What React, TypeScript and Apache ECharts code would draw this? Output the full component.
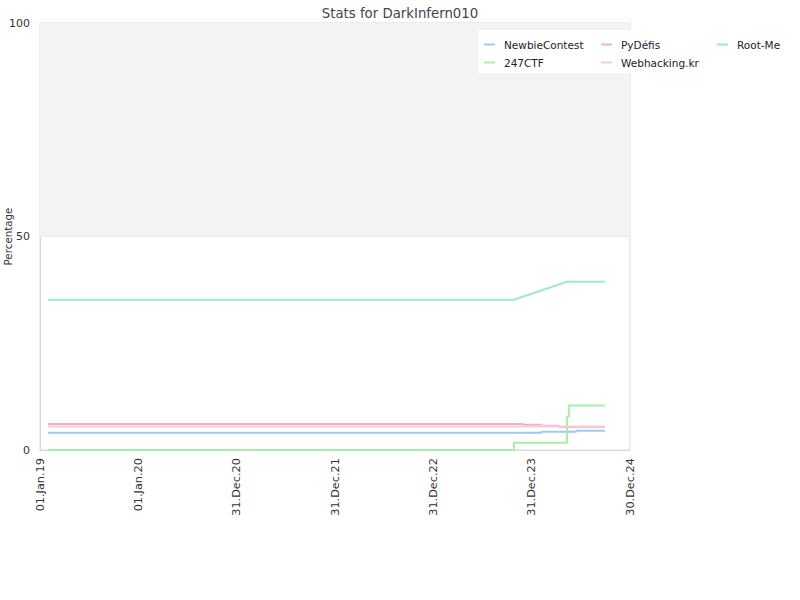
import React, { useEffect, useRef } from "react";
import * as echarts from "echarts";

const seriesNames = ["NewbieContest", "247CTF", "PyDéfis", "Webhacking.kr", "Root-Me"];
const seriesColors = ["#9ec9f5", "#a9eea6", "#f5abcb", "#f9cdd0", "#9de9c9"];

const newbieDates = ["2019-01-31", "2024-02-04", "2024-06-13", "2024-09-28"];
const newbieValues = [4.05, 4.3, 4.5, 4.5];

const ctfDates = ["2019-01-31", "2023-10-26", "2024-05-10", "2024-05-17", "2024-09-28"];
const ctfValues = [0, 1.7, 7.8, 10.4, 10.4];

const pyDates = ["2019-01-31", "2023-11-29", "2024-02-04", "2024-04-10", "2024-09-28"];
const pyValues = [6.1, 5.9, 5.7, 5.4, 5.4];

const webDates = ["2019-01-31", "2024-09-28"];
const webValues = [5.5, 5.5];

const rootDates = ["2019-01-31", "2023-10-26", "2024-05-10", "2024-09-28"];
const rootValues = [35.2, 35.2, 39.4, 39.4];

const yTicks = [0, 50, 100];

const DAY = 86400000;
const X_MIN = Date.UTC(2019, 0, 1);
const X_INTERVAL = 365 * DAY;
const X_MAX = X_MIN + 6 * X_INTERVAL;

const MONTHS = ["Jan", "Feb", "Mar", "Apr", "May", "Jun", "Jul", "Aug", "Sep", "Oct", "Nov", "Dec"];
function fmtDate(v: number) {
  const d = new Date(v);
  const dd = String(d.getUTCDate()).padStart(2, "0");
  const yy = String(d.getUTCFullYear() % 100).padStart(2, "0");
  return `${dd}.${MONTHS[d.getUTCMonth()]}.${yy}`;
}

function pairs(dates: string[], values: number[]) {
  return dates.map((d, i) => [new Date(d).getTime(), values[i]]);
}

export default function App() {
  const ref = useRef<HTMLDivElement>(null);
  useEffect(() => {
    if (!ref.current) return;
    const chart = echarts.init(ref.current, null, { renderer: "svg" });
    const font = "DejaVu Sans";
    const dataSets = [
      pairs(newbieDates, newbieValues),
      pairs(ctfDates, ctfValues),
      pairs(pyDates, pyValues),
      pairs(webDates, webValues),
      pairs(rootDates, rootValues),
    ];
    const steps: any[] = ["end", "end", "end", "end", false];
    const legendStyle = {
      orient: "vertical" as const,
      top: 34,
      icon: "rect",
      itemWidth: 11,
      itemHeight: 2,
      itemGap: 7,
      textStyle: { color: "#222", fontSize: 10.5, fontFamily: font, padding: [0, 0, 0, 4] },
    };
    chart.setOption({
      animation: false,
      textStyle: { fontFamily: font },
      title: {
        text: "Stats for DarkInfern010",
        left: "center",
        top: 2,
        textStyle: { fontSize: 13.3, fontWeight: "normal", color: "#444", fontFamily: font },
      },
      graphic: [
        {
          type: "rect",
          z: 3,
          shape: { x: 478, y: 30, width: 322, height: 43 },
          style: { fill: "#ffffff" },
        },
      ],
      legend: [
        { ...legendStyle, left: 479, data: [seriesNames[0], seriesNames[1]] },
        { ...legendStyle, left: 596, data: [seriesNames[2], seriesNames[3]] },
        { ...legendStyle, left: 712, data: [seriesNames[4]] },
      ],
      grid: {
        left: 40,
        right: 170,
        top: 23,
        bottom: 150,
        containLabel: false,
        outerBoundsMode: "none",
        show: true,
        borderColor: "#d9d9d9",
        borderWidth: 1,
        backgroundColor: "#ffffff",
      },
      xAxis: {
        type: "value",
        min: X_MIN,
        max: X_MAX,
        interval: X_INTERVAL,
        axisLine: { show: true, lineStyle: { color: "#d9d9d9" } },
        axisTick: { show: false },
        splitLine: { show: false },
        axisLabel: {
          rotate: 90,
          color: "#333",
          fontSize: 11.3,
          fontFamily: font,
          margin: 8,
          formatter: (v: number) => fmtDate(v),
        },
      },
      yAxis: {
        type: "value",
        min: yTicks[0],
        max: yTicks[yTicks.length - 1],
        interval: 50,
        name: "Percentage",
        nameLocation: "middle",
        nameGap: 27,
        nameMoveOverlap: false,
        nameTextStyle: { color: "#333", fontSize: 10.3, fontFamily: font },
        axisLine: { show: true, lineStyle: { color: "#d9d9d9" } },
        axisTick: { show: false },
        splitLine: { show: true, lineStyle: { color: "#e2e2e2" } },
        axisLabel: { color: "#333", fontSize: 11, fontFamily: font, margin: 10 },
      },
      series: seriesNames.map((name, i) => ({
        name,
        type: "line",
        step: steps[i],
        data: dataSets[i],
        showSymbol: false,
        symbol: "none",
        color: seriesColors[i],
        lineStyle: { width: 2, color: seriesColors[i] },
        ...(i === 0
          ? {
              markArea: {
                silent: true,
                itemStyle: { color: "#f3f3f3" },
                data: [[{ yAxis: 50 }, { yAxis: 100 }]],
              },
            }
          : {}),
      })),
    });
    return () => chart.dispose();
  }, []);
  return (
    <div
      ref={ref}
      style={{ position: "absolute", left: 0, top: 0, width: 800, height: 600 }}
    />
  );
}
